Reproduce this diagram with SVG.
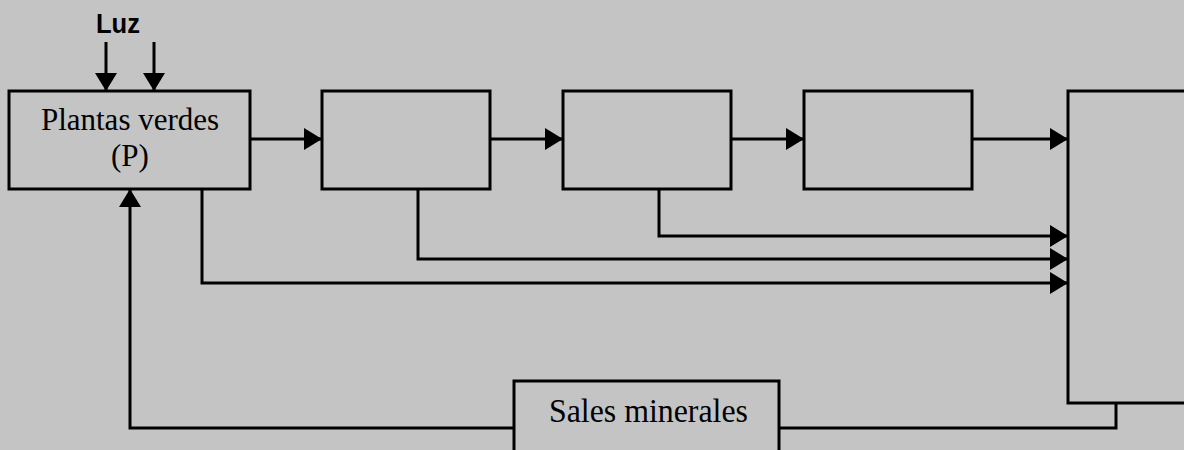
<svg xmlns="http://www.w3.org/2000/svg" width="1184" height="450" viewBox="0 0 1184 450">
<style>
.box{fill:#c4c4c4;stroke:#000;stroke-width:3}
.ln{fill:none;stroke:#000;stroke-width:3;stroke-linejoin:miter}
.t{font-family:"Liberation Serif","Times New Roman",serif;fill:#000}
.s{font-family:"Liberation Sans",Arial,sans-serif;font-weight:bold;fill:#000}
</style>
<defs>
<marker id="ah" viewBox="0 0 18 22" refX="17" refY="11" markerWidth="18" markerHeight="22" markerUnits="userSpaceOnUse" orient="auto">
<path d="M0,0 L18,11 L0,22 z" fill="#000"/>
</marker>
</defs>
<rect width="1184" height="450" fill="#c4c4c4"/>
<g id="connectors">
<path class="ln" d="M106,42 V90" marker-end="url(#ah)"/>
<path class="ln" d="M154,42 V90" marker-end="url(#ah)"/>
<path class="ln" d="M250,139 H321" marker-end="url(#ah)"/>
<path class="ln" d="M490,139 H562" marker-end="url(#ah)"/>
<path class="ln" d="M731,139 H803" marker-end="url(#ah)"/>
<path class="ln" d="M972,139 H1067" marker-end="url(#ah)"/>
<path class="ln" d="M659,189 V236 H1067" marker-end="url(#ah)"/>
<path class="ln" d="M418,189 V259 H1067" marker-end="url(#ah)"/>
<path class="ln" d="M202,189 V283 H1067" marker-end="url(#ah)"/>
<path class="ln" d="M1116,403 V428 H779"/>
<path class="ln" d="M514,428 H130 V190" marker-end="url(#ah)"/>
</g>
<text class="s" x="96" y="33" font-size="28" textLength="44" lengthAdjust="spacingAndGlyphs">Luz</text>
<g id="plantas">
<rect class="box" x="9" y="91" width="241" height="98"/>
<text class="t" x="130" y="130" font-size="31" text-anchor="middle">Plantas verdes</text>
<text class="t" x="130" y="166" font-size="31" text-anchor="middle">(P)</text>
</g>
<g id="n2"><rect class="box" x="322" y="91" width="168" height="98"/></g>
<g id="n3"><rect class="box" x="563" y="91" width="168" height="98"/></g>
<g id="n4"><rect class="box" x="804" y="91" width="168" height="98"/></g>
<g id="n5"><rect class="box" x="1068" y="91" width="200" height="312"/></g>
<g id="sales">
<rect class="box" x="514" y="381" width="265" height="90"/>
<text class="t" x="549" y="422" font-size="34" textLength="199" lengthAdjust="spacingAndGlyphs">Sales minerales</text>
</g>
</svg>
